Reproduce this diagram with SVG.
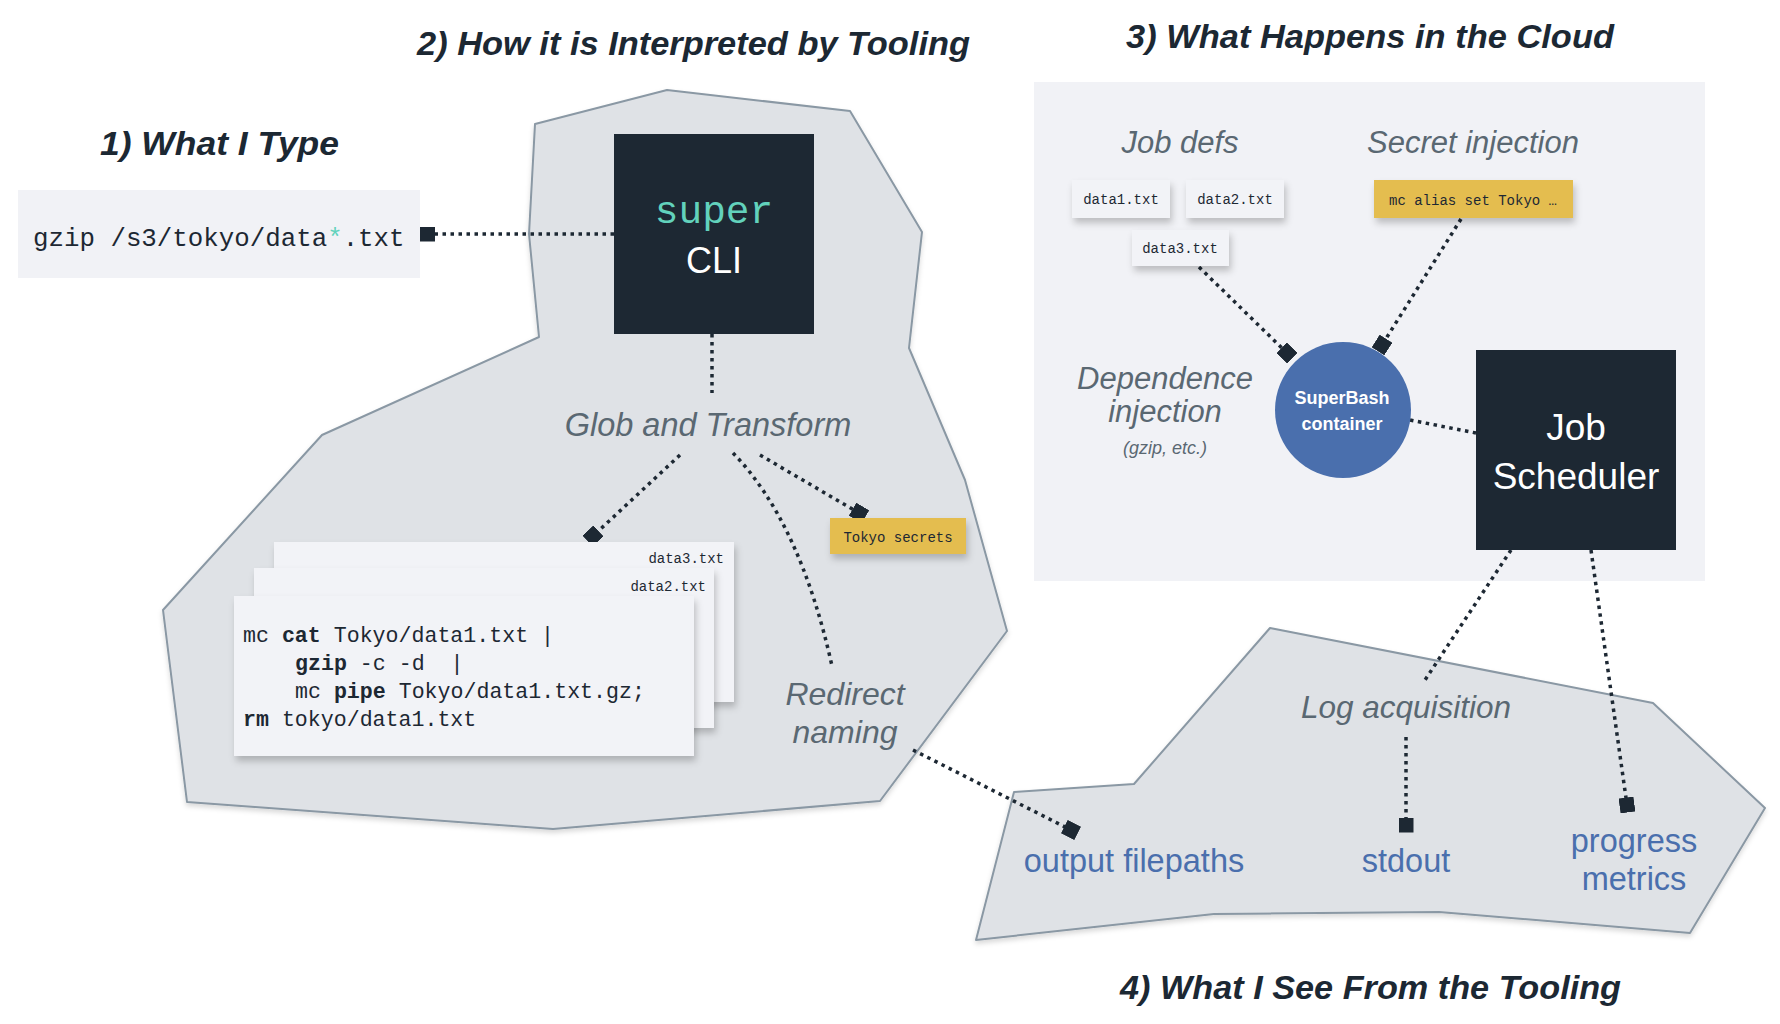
<svg xmlns="http://www.w3.org/2000/svg" width="1780" height="1024" viewBox="0 0 1780 1024">
<defs>
<style>
.title{font-family:"Liberation Sans",Arial,sans-serif;font-weight:bold;font-style:italic;font-size:34px;fill:#1c2833}
.lbl{font-family:"Liberation Sans",Arial,sans-serif;font-style:italic;fill:#5a6872}
.blue{font-family:"Liberation Sans",Arial,sans-serif;font-size:32.5px;fill:#4a6fad}
.mono{font-family:"Liberation Mono","DejaVu Sans Mono",monospace;fill:#1d2833}
.blob{fill:#dfe2e6;stroke:#8a98a4;stroke-width:2;stroke-linejoin:round}
.card{fill:#f2f3f7}
.dark{fill:#1d2833}
.yel{fill:#e4bd50}
.dot{fill:none;stroke:#1d2833;stroke-width:3.5;stroke-dasharray:3.5 4.5}
</style>
<marker id="sq" viewBox="0 0 10 10" refX="5" refY="5" markerWidth="15" markerHeight="15" markerUnits="userSpaceOnUse" orient="auto">
<rect width="10" height="10" fill="#1d2833"/>
</marker>
<filter id="sh" x="-20%" y="-20%" width="140%" height="160%">
<feDropShadow dx="2" dy="5" stdDeviation="3.5" flood-color="#000" flood-opacity="0.22"/>
</filter>
<filter id="bsh" x="-5%" y="-5%" width="110%" height="115%">
<feDropShadow dx="0" dy="3" stdDeviation="2.5" flood-color="#000" flood-opacity="0.15"/>
</filter>
</defs>
<rect width="1780" height="1024" fill="#ffffff"/>

<!-- regions -->
<g id="region-tooling">
<polygon class="blob" filter="url(#bsh)" points="535,124 667,90 850,111 922,232 909,348 965,480 1007,631 880,801 553,829 187,802 163,610 322,435 539,337 529,234"/>
</g>
<g id="region-cloud">
<rect x="1034" y="82" width="671" height="499" fill="#f1f2f6"/>
</g>
<g id="region-output">
<polygon class="blob" filter="url(#bsh)" points="1270,628 1653,703 1765,808 1690,933 1439,912 1214,914 976,940 1014,792 1134,784"/>
</g>

<!-- titles -->
<g id="titles">
<text class="title" x="100" y="155" textLength="239" lengthAdjust="spacingAndGlyphs">1) What I Type</text>
<text class="title" x="417" y="55" textLength="553" lengthAdjust="spacingAndGlyphs">2) How it is Interpreted by Tooling</text>
<text class="title" x="1126" y="48" textLength="488" lengthAdjust="spacingAndGlyphs">3) What Happens in the Cloud</text>
<text class="title" x="1120" y="999" textLength="501" lengthAdjust="spacingAndGlyphs">4) What I See From the Tooling</text>
</g>

<!-- connectors -->
<g id="connectors">
<path class="dot" d="M614,234 L427.5,234" marker-end="url(#sq)"/>
<path class="dot" d="M712,334 L712,393"/>
<path class="dot" d="M680,455 L593,536" marker-end="url(#sq)"/>
<path class="dot" d="M760,455 L859,513" marker-end="url(#sq)"/>
<path class="dot" d="M733,453 Q800,522 832,666"/>
<path class="dot" d="M913,750 L1071,830" marker-end="url(#sq)"/>
<path class="dot" d="M1199,267 L1287,353" marker-end="url(#sq)"/>
<path class="dot" d="M1461,219 L1382,345" marker-end="url(#sq)"/>
<path class="dot" d="M1410,420 L1476,433"/>
<path class="dot" d="M1511,550 L1425,680"/>
<path class="dot" d="M1591,550 L1627,805" marker-end="url(#sq)"/>
<path class="dot" d="M1406,737 L1406,825" marker-end="url(#sq)"/>
</g>

<!-- nodes -->
<g id="node-typed">
<rect x="18" y="190" width="402" height="88" fill="#f1f2f6"/>
<text class="mono" x="33" y="246" font-size="25.8">gzip /s3/tokyo/data<tspan fill="#62d2bc">*</tspan>.txt</text>
</g>

<g id="node-cli">
<rect class="dark" x="614" y="134" width="200" height="200"/>
<text class="mono" x="714" y="223" font-size="39.5" text-anchor="middle" style="fill:#62d2bc">super</text>
<text x="714" y="273" font-family="'Liberation Sans',Arial,sans-serif" font-size="36" text-anchor="middle" fill="#ffffff">CLI</text>
</g>

<g id="node-glob">
<text class="lbl" x="708" y="436" font-size="32.5" text-anchor="middle">Glob and Transform</text>
</g>

<g id="node-commands">
<rect class="card" filter="url(#sh)" x="274" y="542" width="460" height="160"/>
<text class="mono" x="724" y="563" font-size="14" text-anchor="end">data3.txt</text>
<rect class="card" filter="url(#sh)" x="254" y="568" width="460" height="160"/>
<text class="mono" x="706" y="591" font-size="14" text-anchor="end">data2.txt</text>
<rect class="card" filter="url(#sh)" x="234" y="596" width="460" height="160"/>
<g class="mono" font-size="21.6">
<text x="243" y="642" xml:space="preserve">mc <tspan font-weight="bold">cat</tspan> Tokyo/data1.txt |</text>
<text x="295" y="670" xml:space="preserve"><tspan font-weight="bold">gzip</tspan> -c -d  |</text>
<text x="295" y="698" xml:space="preserve">mc <tspan font-weight="bold">pipe</tspan> Tokyo/data1.txt.gz;</text>
<text x="243" y="726" xml:space="preserve"><tspan font-weight="bold">rm</tspan> tokyo/data1.txt</text>
</g>
</g>

<g id="node-tokyo-secrets">
<rect class="yel" filter="url(#sh)" x="830" y="518" width="136" height="36"/>
<text class="mono" x="898" y="542" font-size="14" text-anchor="middle">Tokyo secrets</text>
</g>

<g id="node-redirect">
<text class="lbl" x="845" y="705" font-size="32" text-anchor="middle">Redirect</text>
<text class="lbl" x="845" y="743" font-size="32" text-anchor="middle">naming</text>
</g>

<g id="node-jobdefs">
<text class="lbl" x="1180" y="153" font-size="31" text-anchor="middle">Job defs</text>
<rect class="card" filter="url(#sh)" x="1072" y="180" width="98" height="38"/>
<text class="mono" x="1121" y="204" font-size="14" text-anchor="middle">data1.txt</text>
<rect class="card" filter="url(#sh)" x="1186" y="180" width="98" height="38"/>
<text class="mono" x="1235" y="204" font-size="14" text-anchor="middle">data2.txt</text>
<rect class="card" filter="url(#sh)" x="1132" y="230" width="97" height="36"/>
<text class="mono" x="1180" y="253" font-size="14" text-anchor="middle">data3.txt</text>
</g>

<g id="node-secret-injection">
<text class="lbl" x="1473" y="153" font-size="31" text-anchor="middle">Secret injection</text>
<rect class="yel" filter="url(#sh)" x="1374" y="180" width="199" height="38"/>
<text class="mono" x="1473" y="205" font-size="14" text-anchor="middle">mc alias set Tokyo …</text>
</g>

<g id="node-dependence">
<text class="lbl" x="1165" y="389" font-size="31" text-anchor="middle">Dependence</text>
<text class="lbl" x="1165" y="422" font-size="31" text-anchor="middle">injection</text>
<text class="lbl" x="1165" y="454" font-size="18" text-anchor="middle">(gzip, etc.)</text>
</g>

<g id="node-superbash">
<circle cx="1343" cy="410" r="68" fill="#4a6fad"/>
<text x="1342" y="404" font-family="'Liberation Sans',Arial,sans-serif" font-weight="bold" font-size="18" text-anchor="middle" fill="#ffffff">SuperBash</text>
<text x="1342" y="430" font-family="'Liberation Sans',Arial,sans-serif" font-weight="bold" font-size="18" text-anchor="middle" fill="#ffffff">container</text>
</g>

<g id="node-scheduler">
<rect class="dark" x="1476" y="350" width="200" height="200"/>
<text x="1576" y="440" font-family="'Liberation Sans',Arial,sans-serif" font-size="37" text-anchor="middle" fill="#ffffff">Job</text>
<text x="1576" y="489" font-family="'Liberation Sans',Arial,sans-serif" font-size="37" text-anchor="middle" fill="#ffffff">Scheduler</text>
</g>

<g id="node-log">
<text class="lbl" x="1406" y="718" font-size="31.5" text-anchor="middle">Log acquisition</text>
</g>

<g id="node-output-filepaths">
<text class="blue" x="1134" y="872" text-anchor="middle">output filepaths</text>
</g>
<g id="node-stdout">
<text class="blue" x="1406" y="872" text-anchor="middle">stdout</text>
</g>
<g id="node-progress">
<text class="blue" x="1634" y="852" text-anchor="middle">progress</text>
<text class="blue" x="1634" y="890" text-anchor="middle">metrics</text>
</g>
</svg>
